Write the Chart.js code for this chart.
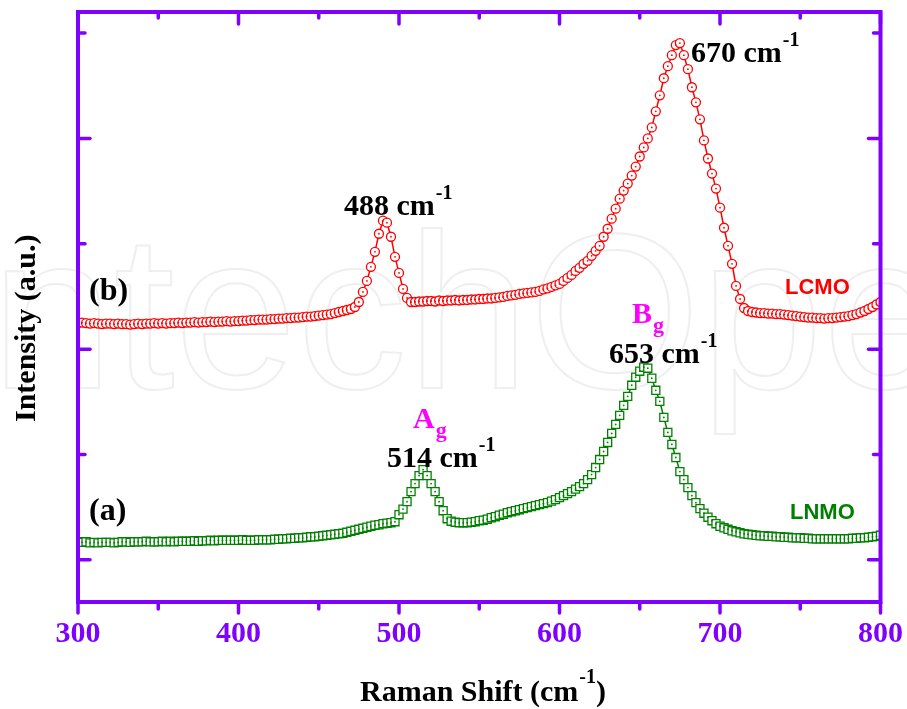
<!DOCTYPE html>
<html>
<head>
<meta charset="utf-8">
<script src="https://cdn.jsdelivr.net/npm/chart.js@4.4.1/dist/chart.umd.min.js"></script>
<style>
  html, body { margin: 0; padding: 0; background: #fff; }
  canvas { display: block; }
</style>
</head>
<body>
<canvas id="ramanChart" width="907" height="709"></canvas>
<script>
// Raman shift (cm-1), one reading every 2.5 cm-1
const ramanShift = [
  300, 302.5, 305, 307.5, 310, 312.5, 315, 317.5, 320, 322.5,
  325, 327.5, 330, 332.5, 335, 337.5, 340, 342.5, 345, 347.5,
  350, 352.5, 355, 357.5, 360, 362.5, 365, 367.5, 370, 372.5,
  375, 377.5, 380, 382.5, 385, 387.5, 390, 392.5, 395, 397.5,
  400, 402.5, 405, 407.5, 410, 412.5, 415, 417.5, 420, 422.5,
  425, 427.5, 430, 432.5, 435, 437.5, 440, 442.5, 445, 447.5,
  450, 452.5, 455, 457.5, 460, 462.5, 465, 467.5, 470, 472.5,
  475, 477.5, 480, 482.5, 485, 487.5, 490, 492.5, 495, 497.5,
  500, 502.5, 505, 507.5, 510, 512.5, 515, 517.5, 520, 522.5,
  525, 527.5, 530, 532.5, 535, 537.5, 540, 542.5, 545, 547.5,
  550, 552.5, 555, 557.5, 560, 562.5, 565, 567.5, 570, 572.5,
  575, 577.5, 580, 582.5, 585, 587.5, 590, 592.5, 595, 597.5,
  600, 602.5, 605, 607.5, 610, 612.5, 615, 617.5, 620, 622.5,
  625, 627.5, 630, 632.5, 635, 637.5, 640, 642.5, 645, 647.5,
  650, 652.5, 655, 657.5, 660, 662.5, 665, 667.5, 670, 672.5,
  675, 677.5, 680, 682.5, 685, 687.5, 690, 692.5, 695, 697.5,
  700, 702.5, 705, 707.5, 710, 712.5, 715, 717.5, 720, 722.5,
  725, 727.5, 730, 732.5, 735, 737.5, 740, 742.5, 745, 747.5,
  750, 752.5, 755, 757.5, 760, 762.5, 765, 767.5, 770, 772.5,
  775, 777.5, 780, 782.5, 785, 787.5, 790, 792.5, 795, 797.5,
  800
];

// (b) LCMO, stacked intensity (a.u.)
const lcmoIntensity = [
  278, 278.5, 278, 277.5, 278, 277.5, 277, 277.5, 277.5, 277,
  277.5, 277, 277, 276.5, 277, 277.5, 277, 277.5, 277.5, 278,
  277.5, 278, 277.5, 278, 278, 278.5, 278, 278.5, 278.5, 279,
  278.5, 279, 279, 279.5, 279, 279.5, 279.5, 280, 279.5, 280,
  280, 280.5, 280.5, 281, 281, 281.5, 281.5, 281.5, 282, 282,
  282.5, 282.5, 283, 283, 283.5, 283.5, 284, 284.5, 284.5, 285,
  285.5, 286, 286.5, 287, 288, 289, 290, 291, 292, 294,
  299, 309, 320, 334, 349, 367, 380, 378, 364, 344,
  328, 312, 303, 299, 299, 299.5, 299.5, 300, 300, 299.5,
  300.5, 300, 300.5, 300.5, 301, 300.5, 301, 301, 301.5, 301.5,
  302, 302, 302.5, 302.5, 303, 303.5, 304, 305, 305.5, 306,
  307, 307.5, 308, 308.5, 309, 310, 311.5, 312.5, 314, 315.5,
  317, 320, 323, 326, 330, 333, 337, 340, 345, 350,
  355, 364, 372, 382, 392, 402, 410, 417, 425, 434,
  444, 453, 462, 473, 489, 505, 522, 534, 545, 555,
  557, 545, 531, 513, 498, 481, 460, 442, 427, 412,
  393, 373, 355, 337, 315, 302, 293, 290, 289, 288.5,
  288, 288, 287.5, 287.5, 287, 287, 286.5, 286, 285.5, 285,
  284.5, 284, 283.5, 283.5, 283, 283, 282.5, 283, 283, 283.5,
  284, 284.5, 285, 286, 287, 288.5, 290, 292, 294, 296.5,
  299
];

// (a) LNMO, stacked intensity (a.u.)
const lnmoIntensity = [
  60, 59.5, 60, 59, 59.5, 59, 59.5, 59.5, 59.5, 59,
  59.5, 60, 60, 59.5, 60, 60, 60, 60.5, 60, 60,
  60, 60.5, 60, 60.5, 60, 60.5, 60.5, 60.5, 60.5, 61,
  60.5, 61, 61, 61.5, 61, 61.5, 61.5, 61.5, 61.5, 61.5,
  61.5, 62, 61.5, 61.5, 61.5, 62, 62, 62, 62, 62.5,
  62.5, 63, 63, 63.5, 63.5, 64, 64, 64.5, 65, 65,
  65.5, 66, 66.5, 67, 67.5, 68, 68.5, 69.5, 70.5, 71.5,
  72.5, 73.5, 74.5, 75.5, 76.5, 77, 78, 78.5, 79, 80,
  87, 92.5, 100, 110, 118, 126, 132, 126, 118, 110,
  100, 91, 83, 80.5, 79.5, 79, 79, 79, 79.5, 80,
  81, 81.5, 82.5, 84, 85, 86.5, 87.5, 89, 90, 91,
  92, 93, 94, 95, 96, 97, 98, 99, 100.5, 102,
  104, 106, 108, 110, 112.5, 115, 118, 122, 127, 134,
  142, 150, 159, 168, 177, 186, 196, 205, 216, 224,
  230, 234, 233, 223, 211, 200, 184, 169, 157, 144,
  130, 122, 114, 106, 99, 93, 88.5, 84.5, 81, 78,
  75.5, 74, 72.5, 71, 70, 69, 68, 67.5, 67, 66.5,
  66, 66, 65.5, 65.5, 65, 65, 64.5, 64.5, 64, 64,
  64, 63.5, 63.5, 63, 63, 63, 63, 63, 63, 63,
  63, 63, 63, 63.5, 63.5, 64, 64, 64.5, 65, 65.5,
  66.5
];

const xMinorTicks = [350, 450, 550, 650, 750];
const yMajorTicks = [42, 252, 462];
const yMinorTicks = [147, 357, 567];

const violet = '#8000FF';
const serif = '"Liberation Serif", "Times New Roman", serif';
const sans = '"Liberation Sans", Arial, sans-serif';

function toPoints(values) {
  return values.map((v, i) => ({ x: ramanShift[i], y: v }));
}

// text with a raised "-1"
function textWithSup(ctx, main, sup, x, y, color, rise) {
  ctx.fillStyle = color;
  ctx.font = 'bold 30px ' + serif;
  ctx.fillText(main, x, y);
  const w = ctx.measureText(main).width;
  ctx.font = 'bold 20px ' + serif;
  ctx.fillText(sup, x + w + 1, y - rise);
  return x + w + 1 + ctx.measureText(sup).width;
}

// text with a lowered subscript
function textWithSub(ctx, main, sub, x, y, color) {
  ctx.fillStyle = color;
  ctx.font = 'bold 30px ' + serif;
  ctx.fillText(main, x, y);
  const w = ctx.measureText(main).width;
  ctx.font = 'bold 22px ' + serif;
  ctx.fillText(sub, x + w + 1, y + 9);
}

const watermark = {
  id: 'watermark',
  beforeDraw(chart) {
    const ctx = chart.ctx;
    ctx.save();
    ctx.font = '220px ' + sans;
    ctx.strokeStyle = '#efefef';
    ctx.lineWidth = 2;
    ctx.strokeText('IntechOpen', -70, 388);
    ctx.restore();
  }
};

const frame = {
  id: 'frame',
  afterDatasetsDraw(chart) {
    const { ctx, chartArea: a, scales: { x, y } } = chart;
    ctx.save();
    // small dot in the middle of every marker
    chart.data.datasets.forEach((ds, i) => {
      ctx.fillStyle = ds.borderColor;
      chart.getDatasetMeta(i).data.forEach(pt => {
        ctx.beginPath();
        ctx.arc(pt.x, pt.y, 0.9, 0, Math.PI * 2);
        ctx.fill();
      });
    });

    ctx.strokeStyle = violet;
    ctx.lineCap = 'round';
    ctx.lineWidth = 3.5;
    const line = (x1, y1, x2, y2) => {
      ctx.beginPath();
      ctx.moveTo(x1, y1);
      ctx.lineTo(x2, y2);
      ctx.stroke();
    };
    x.ticks.forEach(t => {
      const px = x.getPixelForValue(t.value);
      line(px, a.bottom, px, a.bottom + 11);
      line(px, a.top, px, a.top + 12);
    });
    xMinorTicks.forEach(v => {
      const px = x.getPixelForValue(v);
      line(px, a.bottom, px, a.bottom + 7);
      line(px, a.top, px, a.top + 6);
    });
    yMajorTicks.forEach(v => {
      const py = y.getPixelForValue(v);
      line(a.left, py, a.left + 12, py);
      line(a.right, py, a.right - 12, py);
    });
    yMinorTicks.forEach(v => {
      const py = y.getPixelForValue(v);
      line(a.left, py, a.left + 7, py);
      line(a.right, py, a.right - 7, py);
    });
    ctx.lineCap = 'butt';
    ctx.lineWidth = 4;
    ctx.strokeRect(a.left, a.top, a.right - a.left, a.bottom - a.top);
    ctx.restore();
  }
};

const labels = {
  id: 'labels',
  afterDraw(chart) {
    const ctx = chart.ctx;
    ctx.save();
    ctx.textAlign = 'left';
    ctx.textBaseline = 'alphabetic';

    // peak positions
    textWithSup(ctx, '670 cm', '-1', 691, 62, '#000', 16);
    textWithSup(ctx, '488 cm', '-1', 344, 215, '#000', 16);
    textWithSup(ctx, '653 cm', '-1', 609, 363, '#000', 16);
    textWithSup(ctx, '514 cm', '-1', 387, 467, '#000', 16);
    textWithSub(ctx, 'B', 'g', 632, 323, '#FF00FF');
    textWithSub(ctx, 'A', 'g', 413, 428, '#FF00FF');

    // sample tags
    ctx.fillStyle = '#000';
    ctx.font = 'bold 32px ' + serif;
    ctx.fillText('(b)', 89, 300);
    ctx.fillText('(a)', 89, 520);
    ctx.font = 'bold 22px ' + sans;
    ctx.fillStyle = '#FF0000';
    ctx.fillText('LCMO', 785, 294);
    ctx.fillStyle = '#008000';
    ctx.fillText('LNMO', 790, 519);

    // axis titles
    const end = textWithSup(ctx, 'Raman Shift (cm', '-1', 360, 701, '#000', 18);
    ctx.font = 'bold 30px ' + serif;
    ctx.fillText(')', end, 701);

    ctx.translate(35, 422);
    ctx.rotate(-Math.PI / 2);
    ctx.fillText('Intensity (a.u.)', 0, 0);
    ctx.restore();
  }
};

new Chart(document.getElementById('ramanChart'), {
  type: 'line',
  data: {
    datasets: [
      {
        label: 'LCMO',
        data: toPoints(lcmoIntensity),
        borderColor: '#FF0000',
        borderWidth: 1.5,
        pointStyle: 'circle',
        pointRadius: 4.5,
        pointBorderWidth: 1.3,
        pointBorderColor: '#FF0000',
        pointBackgroundColor: '#FFFFFF',
        tension: 0
      },
      {
        label: 'LNMO',
        data: toPoints(lnmoIntensity),
        borderColor: '#008000',
        borderWidth: 1.5,
        pointStyle: 'rect',
        pointRadius: 5.7,
        pointBorderWidth: 1.3,
        pointBorderColor: '#008000',
        pointBackgroundColor: '#FFFFFF',
        tension: 0
      }
    ]
  },
  options: {
    responsive: false,
    animation: false,
    devicePixelRatio: 1,
    layout: {
      padding: { left: 78, right: 26.5, top: 12, bottom: 43 }
    },
    plugins: {
      legend: { display: false },
      tooltip: { enabled: false }
    },
    scales: {
      x: {
        type: 'linear',
        min: 300,
        max: 800,
        grid: { display: false, drawTicks: false },
        border: { display: false },
        ticks: {
          stepSize: 100,
          padding: 0,
          color: violet,
          font: { family: serif, size: 30, weight: 'bold', lineHeight: 2.133 }
        }
      },
      y: {
        display: false,
        min: 0,
        max: 588
      }
    }
  },
  plugins: [watermark, frame, labels]
});
</script>
</body>
</html>
